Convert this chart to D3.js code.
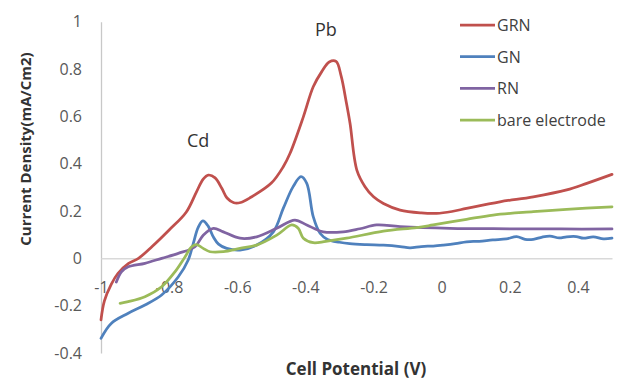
<!DOCTYPE html>
<html><head><meta charset="utf-8">
<script src="https://cdn.jsdelivr.net/npm/d3@7"></script>
<style>body{margin:0;background:#fff}svg{display:block}</style>
</head><body><svg id="c" width="625" height="379"></svg>
<script>
const seriesNames = ["GRN", "GN", "RN", "bare electrode"];
const seriesColors = ["#c0504d", "#4f81bd", "#8064a2", "#9bbb59"];
const xTicks = [-1, -0.8, -0.6, -0.4, -0.2, 0, 0.2, 0.4];
const yTicks = [-0.4, -0.2, 0, 0.2, 0.4, 0.6, 0.8, 1];

const grnV = [-1.0, -0.99, -0.97, -0.95, -0.92, -0.89, -0.85, -0.8, -0.75, -0.72, -0.7, -0.685, -0.665, -0.645, -0.63, -0.61, -0.59, -0.56, -0.5, -0.465, -0.445, -0.406, -0.377, -0.352, -0.33, -0.31, -0.295, -0.28, -0.269, -0.249, -0.225, -0.2, -0.171, -0.122, -0.06, -0.015, 0.03, 0.073, 0.171, 0.269, 0.367, 0.426, 0.5];
const grnJ = [-0.26, -0.18, -0.11, -0.063, -0.022, 0.0, 0.05, 0.12, 0.195, 0.28, 0.335, 0.352, 0.34, 0.295, 0.255, 0.235, 0.236, 0.258, 0.318, 0.387, 0.444, 0.598, 0.725, 0.789, 0.83, 0.832, 0.77, 0.66, 0.571, 0.373, 0.303, 0.26, 0.232, 0.204, 0.192, 0.19, 0.198, 0.211, 0.239, 0.26, 0.289, 0.317, 0.355];

const gnV = [-1.0, -0.97, -0.92, -0.871, -0.822, -0.773, -0.744, -0.729, -0.715, -0.701, -0.685, -0.67, -0.655, -0.631, -0.592, -0.543, -0.494, -0.465, -0.436, -0.413, -0.396, -0.377, -0.357, -0.335, -0.3, -0.27, -0.22, -0.171, -0.122, -0.093, -0.06, -0.025, 0.005, 0.04, 0.073, 0.11, 0.15, 0.19, 0.22, 0.245, 0.269, 0.295, 0.318, 0.345, 0.367, 0.395, 0.416, 0.445, 0.475, 0.5];
const gnJ = [-0.338, -0.275, -0.232, -0.197, -0.155, -0.078, -0.007, 0.063, 0.13, 0.158, 0.135, 0.09, 0.06, 0.042, 0.035, 0.056, 0.112, 0.211, 0.303, 0.345, 0.317, 0.176, 0.106, 0.08, 0.068, 0.062, 0.058, 0.056, 0.05, 0.044, 0.05, 0.052, 0.056, 0.062, 0.07, 0.072, 0.078, 0.082, 0.092, 0.08, 0.08, 0.09, 0.094, 0.086, 0.091, 0.092, 0.085, 0.091, 0.082, 0.085];

const rnV = [-0.955, -0.94, -0.92, -0.871, -0.822, -0.773, -0.724, -0.7, -0.67, -0.641, -0.592, -0.543, -0.484, -0.431, -0.396, -0.348, -0.289, -0.24, -0.191, -0.122, 0.024, 0.2, 0.35, 0.5];
const rnJ = [-0.1, -0.057, -0.036, -0.021, 0.0, 0.021, 0.049, 0.098, 0.127, 0.112, 0.085, 0.091, 0.127, 0.162, 0.141, 0.112, 0.112, 0.125, 0.141, 0.134, 0.127, 0.125, 0.124, 0.124];

const bareV = [-0.944, -0.92, -0.871, -0.822, -0.783, -0.753, -0.734, -0.719, -0.7, -0.68, -0.641, -0.592, -0.543, -0.484, -0.44, -0.421, -0.406, -0.377, -0.34, -0.279, -0.171, -0.073, -0.025, 0.073, 0.151, 0.269, 0.367, 0.5];
const bareJ = [-0.19, -0.183, -0.162, -0.12, -0.057, 0.007, 0.049, 0.058, 0.042, 0.028, 0.028, 0.042, 0.056, 0.098, 0.141, 0.127, 0.085, 0.066, 0.072, 0.085, 0.115, 0.13, 0.141, 0.165, 0.183, 0.197, 0.207, 0.218];

const annotations = [{text: "Cd", v: -0.715, j: 0.5}, {text: "Pb", v: -0.34, j: 0.97}];

const seriesData = [[grnV, grnJ], [gnV, gnJ], [rnV, rnJ], [bareV, bareJ]];

const svg = d3.select("#c");
const font = "'Open Sans', sans-serif";
const x = d3.scaleLinear().domain([-1, 0.5]).range([101, 612]);
const y = d3.scaleLinear().domain([-0.4, 1]).range([353, 21.7]);

// y axis
const ya = svg.append("g").attr("transform", `translate(${x(-1)},0)`)
  .call(d3.axisLeft(y).tickValues(yTicks).tickSize(0).tickSizeOuter(0).tickPadding(19).tickFormat(d => String(d)));
ya.select(".domain").attr("stroke", "#c8c8c8").attr("stroke-width", 1.3);
ya.selectAll("text").attr("font-family", font).attr("font-size", 16).attr("fill", "#595959");

// x axis at zero
const xa = svg.append("g").attr("transform", `translate(0,${y(0)})`)
  .call(d3.axisBottom(x).tickValues(xTicks).tickSize(0).tickSizeOuter(0).tickPadding(23).tickFormat(d => String(d)));
xa.select(".domain").attr("stroke", "#d9d9d9").attr("stroke-width", 1.5);
xa.selectAll("text").attr("font-family", font).attr("font-size", 16).attr("fill", "#595959");

// series
const line = d3.line().x(d => x(d[0])).y(d => y(d[1])).curve(d3.curveCatmullRom.alpha(0.5));
seriesData.forEach((s, i) => {
  const pts = s[0].map((v, k) => [v, s[1][k]]);
  svg.append("path").datum(pts).attr("d", line)
    .attr("fill", "none").attr("stroke", seriesColors[i]).attr("stroke-width", 2.75)
    .attr("stroke-linejoin", "round").attr("stroke-linecap", "round");
});

// annotations
annotations.forEach(a => {
  svg.append("text").attr("x", x(a.v)).attr("y", y(a.j)).attr("text-anchor", "middle")
    .attr("dominant-baseline", "central").attr("font-family", font).attr("font-size", 18)
    .attr("fill", "#333").text(a.text);
});

// legend
const lg = svg.append("g");
seriesNames.forEach((n, i) => {
  const ly = 25 + i * 31.7;
  lg.append("line").attr("x1", 460).attr("x2", 495).attr("y1", ly).attr("y2", ly)
    .attr("stroke", seriesColors[i]).attr("stroke-width", 2.75);
  lg.append("text").attr("x", 497).attr("y", ly).attr("dominant-baseline", "central")
    .attr("font-family", font).attr("font-size", 16).attr("fill", "#404040").text(n);
});

// axis titles
svg.append("text").attr("x", 356).attr("y", 368).attr("text-anchor", "middle")
  .attr("dominant-baseline", "central").attr("font-family", font).attr("font-weight", "bold")
  .attr("font-size", 17).attr("fill", "#333").text("Cell Potential (V)");
svg.append("text").attr("transform", "translate(25,149) rotate(-90)").attr("text-anchor", "middle")
  .attr("dominant-baseline", "central").attr("font-family", font).attr("font-weight", "bold")
  .attr("font-size", 15).attr("fill", "#333").text("Current Density(mA/Cm2)");
</script></body></html>
